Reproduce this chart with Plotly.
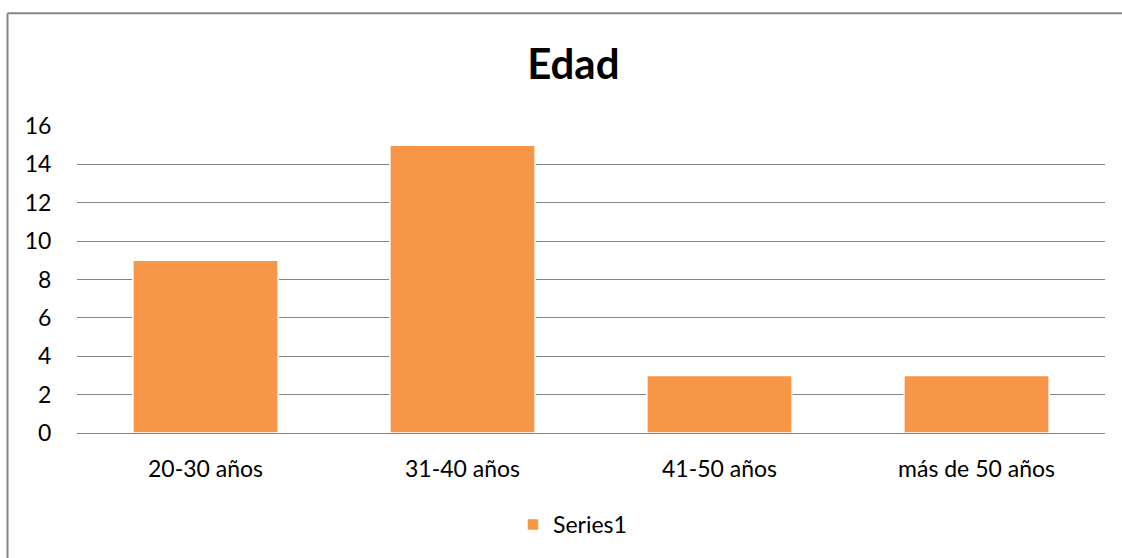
import plotly.graph_objects as go

categories = ["20-30 años", "31-40 años", "41-50 años", "más de 50 años"]
values = [9, 15, 3, 3]
y_ticks = [0, 2, 4, 6, 8, 10, 12, 14, 16]

fig = go.Figure()
fig.add_trace(go.Bar(
    x=categories, y=values, name="Series1",
    marker=dict(color="#F79646", line=dict(color="white", width=1.5)),
    showlegend=True,
))

fig.update_layout(
    width=1122, height=558,
    margin=dict(l=77, r=17, t=125, b=123, pad=0),
    paper_bgcolor="white", plot_bgcolor="white",
    font=dict(family="Lato", size=23, color="#000000"),
    title=dict(text="<b>Edad</b>", x=0.511, xanchor="center", y=0.885, yanchor="middle",
               font=dict(family="Lato", size=42, color="#000000")),
    bargap=0.435,
    showlegend=True,
    legend=dict(orientation="h", x=0.482, xanchor="center", y=-0.297, yanchor="middle",
                font=dict(size=23), itemwidth=30),
)

fig.update_yaxes(range=[0, 16.05], tickvals=y_ticks, showgrid=True, gridcolor="#868686", gridwidth=1,
                 zeroline=False, showline=False, ticks="outside", ticklen=20, tickcolor="white",
                 fixedrange=True)
fig.update_xaxes(showline=True, linecolor="#868686", linewidth=1, ticks="outside", ticklen=15,
                 tickcolor="white", fixedrange=True)

# outer chart border: only the top and left edges are inside the picture
border = dict(color="#868686", width=2)
fig.add_shape(type="line", xref="paper", yref="paper",
              x0=-0.0676, x1=1.3, y0=1.3629, y1=1.3629, line=border, layer="below")
fig.add_shape(type="line", xref="paper", yref="paper",
              x0=-0.0676, x1=-0.0676, y0=-0.6, y1=1.3629, line=border, layer="below")

# drop the page's default body margin so the figure fills the window exactly
fig.write_html("out.html", config={"displayModeBar": False},
               post_script="document.body.style.margin='0';document.body.style.overflow='hidden';")
